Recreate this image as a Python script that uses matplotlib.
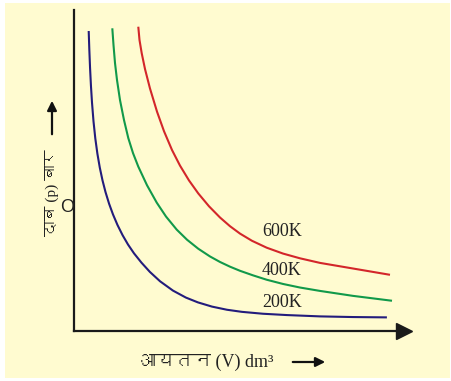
import matplotlib
matplotlib.use("Agg")
import matplotlib.pyplot as plt
from matplotlib import font_manager
from matplotlib.ft2font import FT2Font
from matplotlib.patches import Rectangle

# values (volume, pressure in arbitrary units)
v_200 = [0.49, 0.51, 0.535, 0.565, 0.6, 0.65, 0.71, 0.78, 0.86, 0.95, 1.05, 1.17, 1.3, 1.45,
         1.62, 1.8, 2.0, 2.25, 2.53, 2.87, 3.3, 3.73, 4.13, 4.6, 5.1, 5.6, 6.3, 7.1, 8.2, 9.3, 10.43]
p_200 = [10.0, 9.4, 8.775, 8.175, 7.615, 6.99, 6.42, 5.909, 5.445, 5.022, 4.632, 4.242, 3.885, 3.533,
         3.193, 2.883, 2.589, 2.277, 1.969, 1.656, 1.346, 1.114, 0.954, 0.813, 0.708, 0.638, 0.575,
         0.531, 0.487, 0.465, 0.454]
v_400 = [1.277, 1.317, 1.367, 1.433, 1.533, 1.667, 1.81, 1.967, 2.143, 2.433, 2.757, 3.067, 3.423,
         3.767, 4.143, 4.533, 4.867, 5.2, 5.533, 5.967, 6.423, 6.967, 7.533, 8.2, 9.3, 10.6]
p_400 = [10.09, 9.53, 8.93, 8.37, 7.7, 7.03, 6.43, 5.93, 5.48, 4.86, 4.28, 3.815, 3.38,
         3.043, 2.742, 2.485, 2.301, 2.144, 2.007, 1.855, 1.709, 1.568, 1.449, 1.336, 1.171, 1.008]
v_600 = [2.143, 2.183, 2.257, 2.367, 2.533, 2.767, 3.0, 3.267, 3.533, 3.833, 4.143, 4.5, 4.867,
         5.2, 5.533, 5.933, 6.423, 6.967, 7.533, 8.2, 9.3, 10.533]
p_600 = [10.143, 9.703, 9.259, 8.731, 8.084, 7.312, 6.66, 6.033, 5.514, 5.019, 4.585, 4.157, 3.783,
         3.493, 3.247, 3.007, 2.777, 2.581, 2.423, 2.27, 2.083, 1.873]
temps = ['200K', '400K', '600K']
label_pos = [(6.27, 0.95), (6.27, 2.03), (6.27, 3.3)]
colors = ['#231c7c', '#11994a', '#d3262a']


def find_devanagari():
    for f in font_manager.fontManager.ttflist:
        try:
            if 0x0926 in FT2Font(f.fname).get_charmap():
                return f.name
        except Exception:
            pass
    return None


deva = find_devanagari()
label_fam = ['Liberation Serif', deva] if deva else ['Liberation Serif', 'DejaVu Sans']

fig = plt.figure(figsize=(4.52, 3.81), dpi=100, facecolor='white')
fig.patches.append(Rectangle((5 / 452, 3 / 381), 445 / 452, 375 / 381,
                             transform=fig.transFigure, facecolor='#fffbd0',
                             edgecolor='none', zorder=-10))

ax = fig.add_axes([74 / 452, 50 / 381, 326 / 452, 321 / 381])
ax.patch.set_alpha(0)
ax.set_xlim(0, 326 / 30)
ax.set_ylim(0, 321 / 30)
for s in ['top', 'right']:
    ax.spines[s].set_visible(False)
for s in ['left', 'bottom']:
    ax.spines[s].set_color('#1a1a1a')
    ax.spines[s].set_linewidth(1.6)
ax.set_xticks([])
ax.set_yticks([])
ax.plot([1 + 4 / 326], [0], marker='>', markersize=11, color='#1a1a1a',
        transform=ax.transAxes, clip_on=False)

for v, p, c in zip([v_200, v_400, v_600], [p_200, p_400, p_600], colors):
    ax.plot(v, p, color=c, lw=1.5, solid_capstyle='butt', solid_joinstyle='round')

for t, (x, y) in zip(temps, label_pos):
    ax.text(x, y, t, fontsize=13, family='Liberation Serif', va='center', ha='left', color='#222222')

ax.text(-0.22, 4.13, 'O', fontsize=13, family='Liberation Sans', ha='center', va='center',
        color='#222222', clip_on=False)

# axis titles with arrows
fig.text(52 / 452, 1 - 193 / 381, 'दाब (p) बार', rotation=90, fontsize=11,
         family=label_fam, ha='center', va='center', color='#222222')
fig.text(206 / 452, 1 - 362 / 381, 'आयतन (V) dm³', fontsize=13,
         family=label_fam, ha='center', va='center', color='#222222')
ax.annotate('', xy=(52, 381 - 98), xytext=(52, 381 - 137), xycoords='figure pixels',
            arrowprops=dict(arrowstyle='-|>', color='#111111', lw=1.6, mutation_scale=14))
ax.annotate('', xy=(328, 381 - 362), xytext=(290, 381 - 362), xycoords='figure pixels',
            arrowprops=dict(arrowstyle='-|>', color='#111111', lw=1.6, mutation_scale=14))

fig.savefig('out.png', dpi=100, facecolor='white')
